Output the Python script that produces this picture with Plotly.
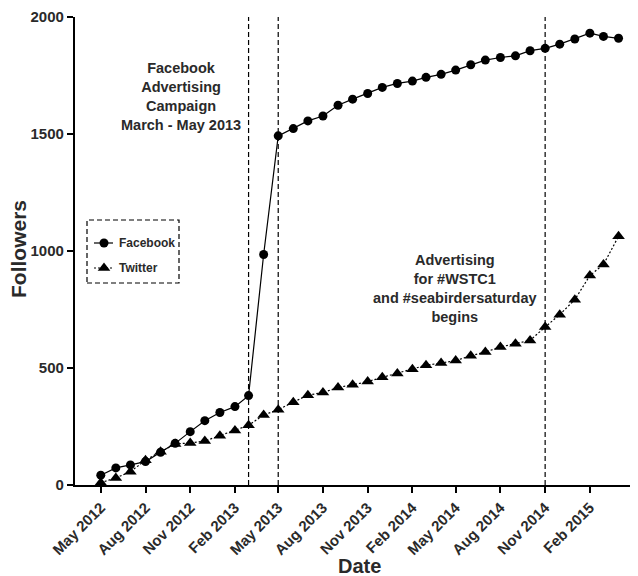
import plotly.graph_objects as go

months = [
    "2012-05-01", "2012-06-01", "2012-07-01", "2012-08-01", "2012-09-01", "2012-10-01",
    "2012-11-01", "2012-12-01", "2013-01-01", "2013-02-01", "2013-03-01", "2013-04-01",
    "2013-05-01", "2013-06-01", "2013-07-01", "2013-08-01", "2013-09-01", "2013-10-01",
    "2013-11-01", "2013-12-01", "2014-01-01", "2014-02-01", "2014-03-01", "2014-04-01",
    "2014-05-01", "2014-06-01", "2014-07-01", "2014-08-01", "2014-09-01", "2014-10-01",
    "2014-11-01", "2014-12-01", "2015-01-01", "2015-02-01", "2015-03-01", "2015-04-01",
]
facebook = [
    42, 73, 86, 100, 140, 178, 228, 275, 310, 335, 382, 985,
    1492, 1523, 1556, 1577, 1623, 1649, 1673, 1699, 1716, 1726, 1742, 1755,
    1773, 1796, 1816, 1827, 1834, 1856, 1866, 1884, 1906, 1931, 1917, 1909,
]
twitter = [
    10, 30, 57, 106, 142, 175, 180, 188, 211, 233, 255, 299,
    322, 354, 384, 395, 417, 428, 442, 460, 477, 495, 512, 521,
    532, 552, 568, 590, 604, 618, 675, 728, 792, 895, 942, 1063,
]
event_dates = ["2013-03-01", "2013-05-01", "2014-11-01"]
series_names = ["Facebook", "Twitter"]
y_ticks = [0, 500, 1000, 1500, 2000]

FONT = "Liberation Sans, Arial, sans-serif"
TXT = "#2a2a2a"

# page body has an 8px margin: the plot frame below is expressed in screen pixels
PW, PH = 563, 468          # plot area size
SX0, SY0 = 75, 485         # screen position of plot's bottom-left corner


def px(sx):
    return (sx - SX0) / PW


def py(sy):
    return (SY0 - sy) / PH


fig = go.Figure()
fig.add_trace(go.Scatter(
    x=months, y=facebook, name=series_names[0], mode="lines+markers",
    line=dict(color="black", width=1.2),
    marker=dict(symbol="circle", size=9, color="black"),
    showlegend=False,
))
fig.add_trace(go.Scatter(
    x=months, y=twitter, name=series_names[1], mode="lines+markers",
    line=dict(color="black", width=1.2, dash="2px,2px"),
    marker=dict(symbol="triangle-up", size=11, color="black"),
    showlegend=False,
))

# ---- manual legend (drawn in an overlay axis spanning the legend frame) ----
BOX = (87, 179, 220, 283)  # screen x0, x1, y0(top), y1(bottom)
bw, bh = BOX[1] - BOX[0], BOX[3] - BOX[2]
leg_rows = [BOX[3] - 243, BOX[3] - 268]
fig.add_trace(go.Scatter(
    x=[7, 17, 26], y=[leg_rows[0]] * 3, mode="lines", xaxis="x2", yaxis="y2",
    line=dict(color="black", width=1.2), showlegend=False, hoverinfo="skip"))
fig.add_trace(go.Scatter(
    x=[17], y=[leg_rows[0]], mode="markers", xaxis="x2", yaxis="y2",
    marker=dict(symbol="circle", size=9, color="black"), showlegend=False, hoverinfo="skip"))
fig.add_trace(go.Scatter(
    x=[7, 17, 26], y=[leg_rows[1]] * 3, mode="lines", xaxis="x2", yaxis="y2",
    line=dict(color="black", width=1.2, dash="2px,2px"), showlegend=False, hoverinfo="skip"))
fig.add_trace(go.Scatter(
    x=[17], y=[leg_rows[1]], mode="markers", xaxis="x2", yaxis="y2",
    marker=dict(symbol="triangle-up", size=11, color="black"), showlegend=False, hoverinfo="skip"))

shapes = []
for d in event_dates:
    shapes.append(dict(type="line", xref="x", yref="y", x0=d, x1=d, y0=0, y1=2000,
                       line=dict(color="black", width=1.2, dash="5px,3px")))
shapes.append(dict(type="rect", xref="paper", yref="paper",
                   x0=px(BOX[0]), x1=px(BOX[1]), y0=py(BOX[3]), y1=py(BOX[2]),
                   line=dict(color="black", width=1.2, dash="5px,3px")))

bold = dict(family=FONT, color=TXT, weight="bold")
annotations = [
    dict(x="2012-10-13", y=1662, xref="x", yref="y", showarrow=False,
         text="Facebook<br>Advertising<br>Campaign<br>March - May 2013",
         font=dict(size=14.5, **bold), align="center"),
    dict(x="2014-04-29", y=838, xref="x", yref="y", showarrow=False,
         text="Advertising<br>for #WSTC1<br>and #seabirdersaturday<br>begins",
         font=dict(size=14.5, **bold), align="center"),
    dict(x=px(18), y=py(249), xref="paper", yref="paper", showarrow=False,
         text="Followers", textangle=-90, xanchor="center", yanchor="middle",
         font=dict(size=21, **bold)),
    dict(x=px(359), y=py(566), xref="paper", yref="paper", showarrow=False,
         text="Date", xanchor="center", yanchor="middle",
         font=dict(size=20, **bold)),
]
for name, row in zip(series_names, leg_rows):
    annotations.append(dict(x=30, y=row, xref="x2", yref="y2", showarrow=False,
                            text=name, xanchor="left", yanchor="middle",
                            font=dict(size=12, **bold)))

fig.update_layout(
    width=630, height=568,
    margin=dict(l=67, r=0, t=9, b=91),
    paper_bgcolor="white", plot_bgcolor="white",
    font=dict(family=FONT, color=TXT),
    showlegend=False,
    shapes=shapes,
    annotations=annotations,
    xaxis=dict(
        type="date", range=["2012-03-09", "2015-05-11"],
        tick0="2012-05-01", dtick="M3", tickformat="%b %Y", tickangle=-45,
        ticks="outside", ticklen=6, tickwidth=1.5, tickcolor="black",
        showline=True, linecolor="black", linewidth=2.2,
        showgrid=False, zeroline=False, automargin=False,
        tickfont=dict(size=15, **bold),
    ),
    yaxis=dict(
        range=[0, 2000], tickvals=y_ticks,
        ticks="outside", ticklen=6, tickwidth=1.5, tickcolor="black",
        showline=True, linecolor="black", linewidth=2.2,
        showgrid=False, zeroline=False, automargin=False,
        tickfont=dict(size=15, **bold),
    ),
    xaxis2=dict(domain=[px(BOX[0]), px(BOX[1])], range=[0, bw], anchor="y2",
                visible=False, fixedrange=True),
    yaxis2=dict(domain=[py(BOX[3]), py(BOX[2])], range=[0, bh], anchor="x2",
                visible=False, fixedrange=True),
)

fig.write_html("out.html")
